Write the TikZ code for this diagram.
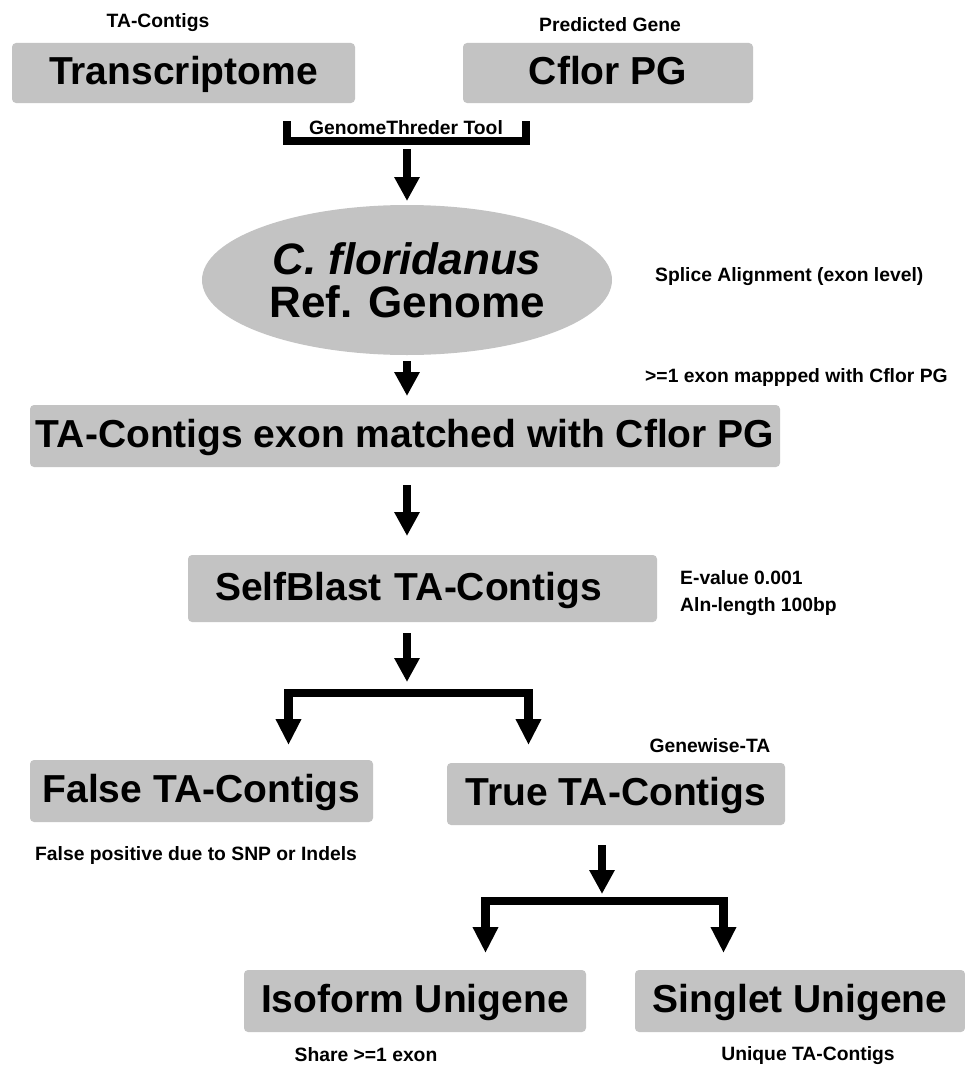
\documentclass[tikz,border=0pt]{standalone}
\usepackage{fontspec}
\setmainfont{Liberation Sans}
\usetikzlibrary{shapes.geometric,arrows.meta}
\definecolor{boxgray}{RGB}{195,195,195}
\begin{document}
\begin{tikzpicture}[x=1pt,y=-1pt,
  bigbox/.style={fill=boxgray, rounded corners=4pt, inner sep=0pt,
    font=\bfseries\fontsize{39}{44}\selectfont, text height=30pt, text depth=7pt},
  small/.style={font=\bfseries\fontsize{19.3}{22}\selectfont, inner sep=0pt},
  bar/.style={line width=8.5pt, line join=miter, line cap=butt},
  arr/.style={line width=8.5pt, -{Triangle[width=24pt,length=24pt]}},
  forkarr/.style={line width=8.5pt, line join=miter,
    {Triangle[width=24pt,length=26pt]}-{Triangle[width=24pt,length=26pt]}}]
\useasboundingbox (0,0) rectangle (965,1065);

% boxes
\node[bigbox, minimum width=343pt, minimum height=60pt] (trans) at (183.5,73) {Transcriptome};
\node[bigbox, minimum width=290pt, minimum height=60pt] (cflor) at (608,73) {Cflor PG};
\node[ellipse, fill=boxgray, minimum width=410pt, minimum height=150pt, inner sep=0pt,
  align=center, font=\bfseries\fontsize{44}{43}\selectfont] (genome) at (407,280)
  {\textit{C. floridanus}\\Ref. Genome};
\node[bigbox, minimum width=750pt, minimum height=62pt] (match) at (405,436)
  {TA-Contigs exon matched with Cflor PG};
\node[bigbox, text width=415pt, align=left, inner xsep=27pt, minimum height=67pt] (self)
  at (422.5,588.5) {SelfBlast TA-Contigs};
\node[bigbox, minimum width=343pt, minimum height=62pt] (false) at (201.5,791) {False TA-Contigs};
\node[bigbox, minimum width=338pt, minimum height=62pt] (true) at (616,794) {True TA-Contigs};
\node[bigbox, minimum width=342pt, minimum height=62pt] (iso) at (415,1001) {Isoform Unigene};
\node[bigbox, minimum width=330pt, minimum height=62pt] (single) at (800,1001) {Singlet Unigene};

% small labels
\node[small, anchor=base] (lbtrans) at (158,28) {TA-Contigs};
\node[small, anchor=base] (lbcflor) at (610,32) {Predicted Gene};
\node[small, anchor=base] (lbtool) at (406,134) {GenomeThreder Tool};
\node[small, anchor=base west] (lbsplice) at (655,281) {Splice Alignment (exon level)};
\node[small, anchor=base west] (lbmap) at (645,382) {>=1 exon mappped with Cflor PG};
\node[small, anchor=base west] (lbeval) at (680,584) {E-value 0.001};
\node[small, anchor=base west] (lbaln) at (680,611) {Aln-length 100bp};
\node[small, anchor=base] (lbgw) at (710,752) {Genewise-TA};
\node[small, anchor=base] (lbfp) at (196,860) {False positive due to SNP or Indels};
\node[small, anchor=base] (lbshare) at (366,1061) {Share >=1 exon};
\node[small, anchor=base] (lbuniq) at (808,1060) {Unique TA-Contigs};

% bracket 1 and arrows
\coordinate (b1l) at (287,121);
\coordinate (b1lc) at (287,141);
\coordinate (b1rc) at (526,141);
\coordinate (b1r) at (526,121);
\draw[bar] (b1l) -- (b1lc) -- (b1rc) -- (b1r);

\coordinate (a1s) at (407,149);
\coordinate (a1e) at (407,201);
\draw[arr] (a1s) -- (a1e);

\coordinate (a2s) at (407,361);
\coordinate (a2e) at (407,396);
\draw[arr] (a2s) -- (a2e);

\coordinate (a3s) at (407,485);
\coordinate (a3e) at (407,536);
\draw[arr] (a3s) -- (a3e);

\coordinate (a4s) at (407,633);
\coordinate (a4e) at (407,682);
\draw[arr] (a4s) -- (a4e);

% bracket 2
\coordinate (b2l) at (288.5,745);
\coordinate (b2lc) at (288.5,693);
\coordinate (b2rc) at (528.5,693);
\coordinate (b2r) at (528.5,745);
\draw[forkarr] (b2l) -- (b2lc) -- (b2rc) -- (b2r);

\coordinate (a5s) at (602,845);
\coordinate (a5e) at (602,894);
\draw[arr] (a5s) -- (a5e);

% bracket 3
\coordinate (b3l) at (485.5,953);
\coordinate (b3lc) at (485.5,901);
\coordinate (b3rc) at (723.5,901);
\coordinate (b3r) at (723.5,953);
\draw[forkarr] (b3l) -- (b3lc) -- (b3rc) -- (b3r);
\end{tikzpicture}
\end{document}
